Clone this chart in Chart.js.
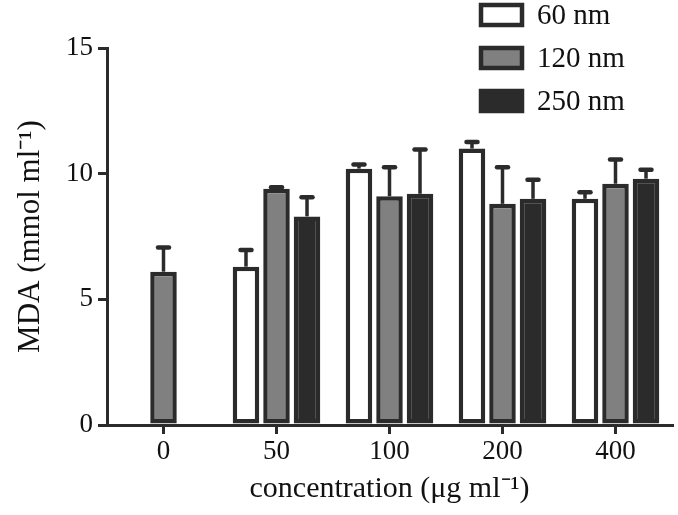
<!DOCTYPE html>
<html>
<head>
<meta charset="utf-8">
<script src="https://cdn.jsdelivr.net/npm/chart.js@4"></script>
<style>
  body { margin: 0; background: #fff; }
  #wrap { width: 678px; height: 515px; }
</style>
</head>
<body>
<div id="wrap"><canvas id="chart" width="678" height="515"></canvas></div>
<script>
// data
const categories = ['0', '50', '100', '200', '400'];
const seriesNames = ['60 nm', '120 nm', '250 nm'];
const mda60 = [null, 6.3, 10.2, 11.0, 9.0];
const mda120 = [6.1, 9.4, 9.1, 8.8, 9.6];
const mda250 = [null, 8.3, 9.2, 9.0, 9.8];
const err60 = [null, 0.7, 0.2, 0.3, 0.3];
const err120 = [1.0, 0.1, 1.2, 1.5, 1.0];
const err250 = [null, 0.8, 1.8, 0.8, 0.4];
const yTicks = [0, 5, 10, 15];

const ink = '#2b2b2b';
const font = 'Liberation Serif, Times New Roman, serif';

// error bars (upper only) drawn from the bar elements
const errorBars = {
    id: 'errorBars',
    afterDatasetsDraw(chart) {
        const ctx = chart.ctx;
        const y = chart.scales.y;
        chart.data.datasets.forEach(function(ds, i) {
            const meta = chart.getDatasetMeta(i);
            meta.data.forEach(function(bar, j) {
                const v = ds.data[j];
                const e = ds.errors[j];
                if (v == null || e == null) return;
                const top = y.getPixelForValue(v + e);
                ctx.save();
                ctx.strokeStyle = ink;
                ctx.lineWidth = 3.5;
                ctx.beginPath();
                ctx.moveTo(bar.x, bar.y);
                ctx.lineTo(bar.x, top);
                ctx.stroke();
                ctx.lineWidth = 4.5;
                ctx.lineCap = 'round';
                ctx.beginPath();
                ctx.moveTo(bar.x - 5.5, top + 1);
                ctx.lineTo(bar.x + 5.5, top + 1);
                ctx.stroke();
                ctx.restore();
            });
        });
    }
};

// legend in the top right corner
const boxLegend = {
    id: 'boxLegend',
    afterDraw(chart) {
        const ctx = chart.ctx;
        ctx.save();
        chart.data.datasets.forEach(function(ds, i) {
            const top = 3 + i * 43;
            ctx.fillStyle = ds.backgroundColor;
            ctx.strokeStyle = ink;
            ctx.lineWidth = 4.5;
            ctx.fillRect(481, top + 2, 41, 20);
            ctx.strokeRect(481, top + 2, 41, 20);
            ctx.fillStyle = '#111';
            ctx.font = '29px ' + font;
            ctx.textBaseline = 'middle';
            ctx.fillText(ds.label, 537, top + 13);
        });
        ctx.restore();
    }
};

const makeSet = function(label, data, errors, fill) {
    return {
        label: label,
        data: data,
        errors: errors,
        backgroundColor: fill,
        borderColor: ink,
        borderWidth: 4.5,
        borderSkipped: false,
        categoryPercentage: 0.81,
        barPercentage: 0.87
    };
};

new Chart(document.getElementById('chart'), {
    type: 'bar',
    data: {
        labels: categories,
        datasets: [
            makeSet(seriesNames[0], mda60, err60, '#ffffff'),
            makeSet(seriesNames[1], mda120, err120, '#808080'),
            makeSet(seriesNames[2], mda250, err250, ink)
        ]
    },
    options: {
        responsive: false,
        animation: false,
        layout: { padding: { top: 48, right: 6, left: 0, bottom: 0 } },
        plugins: {
            legend: { display: false },
            tooltip: { enabled: false }
        },
        scales: {
            x: {
                offset: true,
                grid: { offset: false, drawOnChartArea: false, tickLength: 9, color: ink, lineWidth: 3 },
                border: { color: ink, width: 3 },
                ticks: { color: '#111', font: { family: font, size: 27 }, padding: 2 },
                title: {
                    display: true,
                    text: 'concentration (μg ml⁻¹)',
                    color: '#111',
                    font: { family: font, size: 30 },
                    padding: { top: 0, bottom: 8 }
                },
                afterFit: function(scale) { scale.height = 90; }
            },
            y: {
                min: 0,
                max: 15,
                afterBuildTicks: function(scale) {
                    scale.ticks = yTicks.map(function(v) { return { value: v }; });
                },
                grid: { drawOnChartArea: false, tickLength: 9, color: ink, lineWidth: 3 },
                border: { color: ink, width: 3 },
                ticks: { color: '#111', font: { family: font, size: 27 }, padding: 5 },
                title: {
                    display: true,
                    text: 'MDA (mmol ml⁻¹)',
                    color: '#111',
                    font: { family: font, size: 31 },
                    padding: { top: 12, bottom: 0 }
                },
                afterFit: function(scale) { scale.width = 107; }
            }
        }
    },
    plugins: [errorBars, boxLegend]
});
</script>
</body>
</html>
